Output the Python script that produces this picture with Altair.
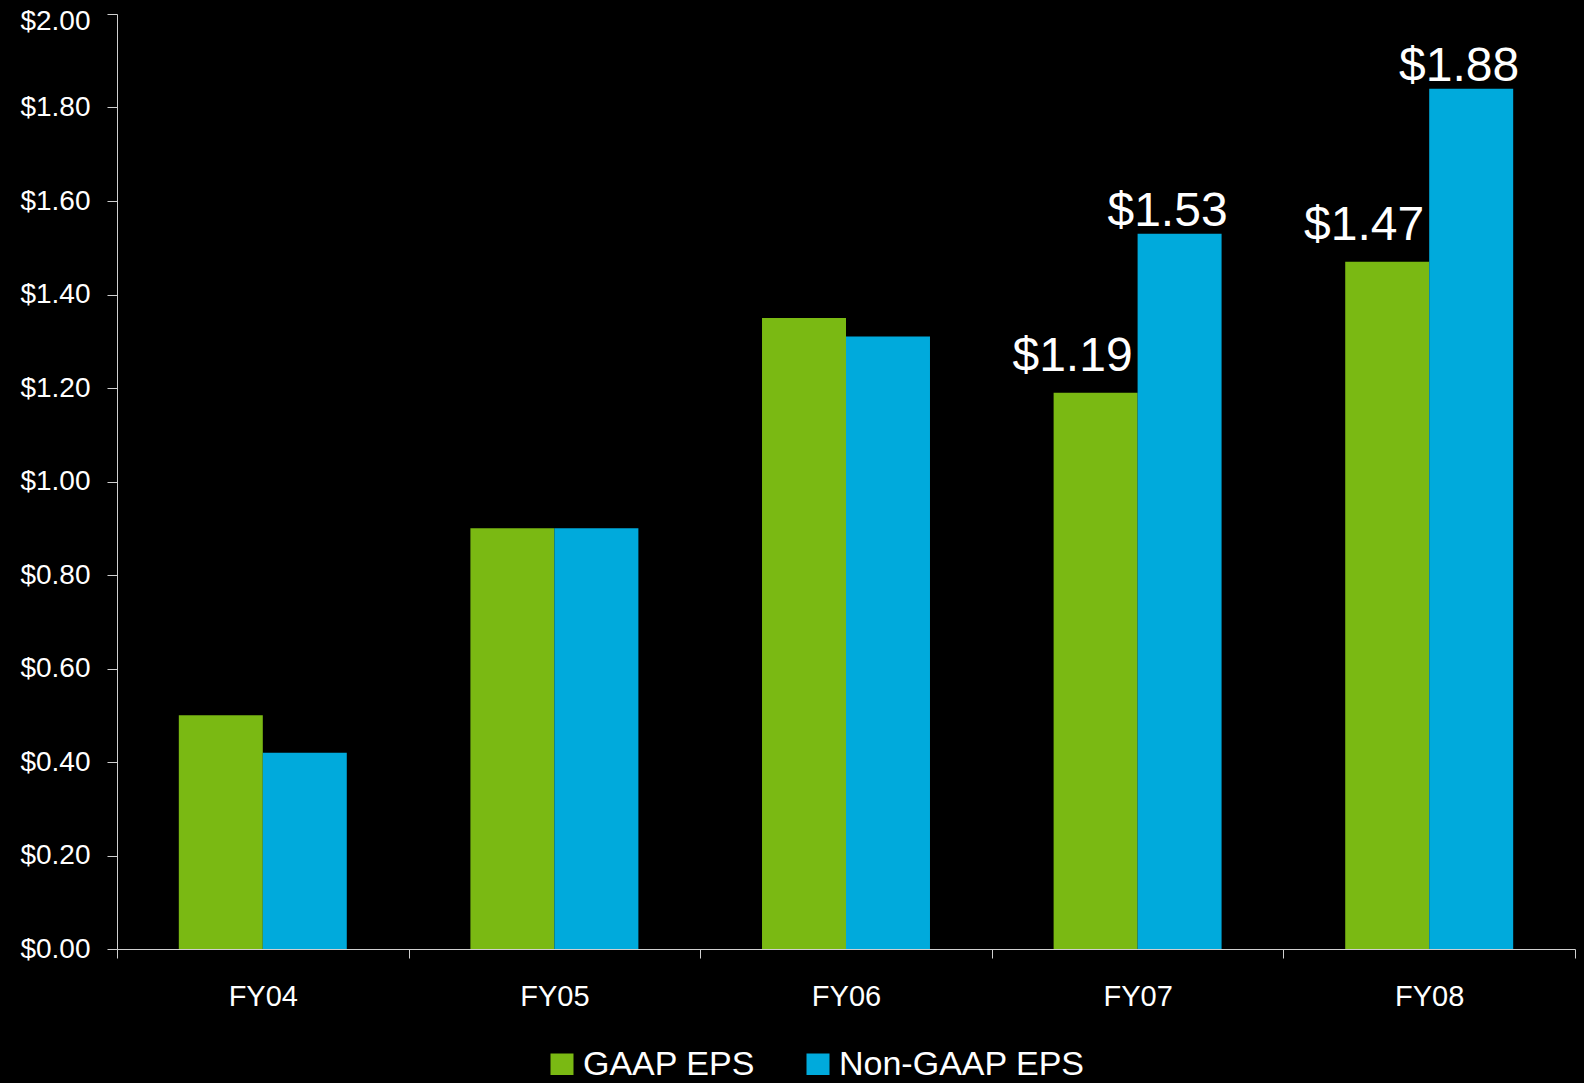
import altair as alt
import pandas as pd

categories = ["FY04", "FY05", "FY06", "FY07", "FY08"]
series_names = ["GAAP EPS", "Non-GAAP EPS"]
gaap = [0.50, 0.90, 1.35, 1.19, 1.47]
non_gaap = [0.42, 0.90, 1.31, 1.53, 1.84]
gaap_labels = ["", "", "", "$1.19", "$1.47"]
non_gaap_labels = ["", "", "", "$1.53", "$1.88"]
y_ticks = [0.0, 0.2, 0.4, 0.6, 0.8, 1.0, 1.2, 1.4, 1.6, 1.8, 2.0]
colors = ["#7AB913", "#00AADC"]

rows = []
for c, v, l in zip(categories, gaap, gaap_labels):
    rows.append({"cat": c, "series": series_names[0], "value": v, "label": l})
for c, v, l in zip(categories, non_gaap, non_gaap_labels):
    rows.append({"cat": c, "series": series_names[1], "value": v, "label": l})
df = pd.DataFrame(rows)

FONT = "Liberation Sans"
AXIS_COLOR = "#d0d0d0"

x_enc = alt.X(
    "cat:N",
    sort=categories,
    title=None,
    scale=alt.Scale(paddingInner=0, paddingOuter=0),
    axis=alt.Axis(
        labelFontSize=29,
        labelColor="#ffffff",
        labelFont=FONT,
        labelAngle=0,
        labelPadding=24,
        tickBand="extent",
        tickSize=9,
        tickColor=AXIS_COLOR,
        domainColor=AXIS_COLOR,
        grid=False,
    ),
)
xoff = alt.XOffset("series:N", sort=series_names,
                   scale=alt.Scale(paddingInner=0, paddingOuter=0.736))
y_enc = alt.Y(
    "value:Q",
    title=None,
    scale=alt.Scale(domain=[0, 2], nice=False),
    axis=alt.Axis(
        values=y_ticks,
        format="$.2f",
        labelFontSize=28,
        labelColor="#ffffff",
        labelFont=FONT,
        labelPadding=17,
        labelOffset=alt.condition("datum.value == 2", alt.value(7), alt.value(0)),
        tickSize=10,
        tickColor=AXIS_COLOR,
        domainColor=AXIS_COLOR,
        grid=False,
    ),
)

bars = alt.Chart(df).mark_bar().encode(
    x=x_enc,
    xOffset=xoff,
    y=y_enc,
    color=alt.Color(
        "series:N",
        sort=series_names,
        scale=alt.Scale(domain=series_names, range=colors),
        legend=alt.Legend(
            title=None,
            orient="none",
            legendX=428,
            legendY=1034,
            direction="horizontal",
            symbolType="square",
            symbolSize=529,
            symbolStrokeWidth=0,
            labelFontSize=34,
            labelFont=FONT,
            labelColor="#ffffff",
            labelOffset=4,
            labelLimit=600,
            columnPadding=46,
        ),
    ),
)

text_base = alt.Chart(df).encode(
    x=alt.X("cat:N", sort=categories),
    xOffset=xoff,
    y=alt.Y("value:Q"),
    text="label:N",
)
labels_gaap = text_base.mark_text(
    align="right", baseline="alphabetic", dx=37, dy=-22,
    fontSize=48, font=FONT, color="#ffffff",
).transform_filter(alt.datum.series == series_names[0])
labels_non = text_base.mark_text(
    align="right", baseline="alphabetic", dx=48, dy=-8,
    fontSize=48, font=FONT, color="#ffffff",
).transform_filter(alt.datum.series == series_names[1])

chart = (
    alt.layer(bars, labels_gaap, labels_non)
    .properties(
        width=1458,
        height=935,
        background="#000000",
        autosize=alt.AutoSizeParams(type="none"),
        padding={"left": 109, "top": 6, "right": 1, "bottom": 126},
    )
    .configure_view(stroke=None)
)

chart.save("out.html", embed_options={
    "renderer": "svg",
    "actions": False,
    "defaultStyle": "body{background:#000000;} svg{overflow:visible;}",
})
